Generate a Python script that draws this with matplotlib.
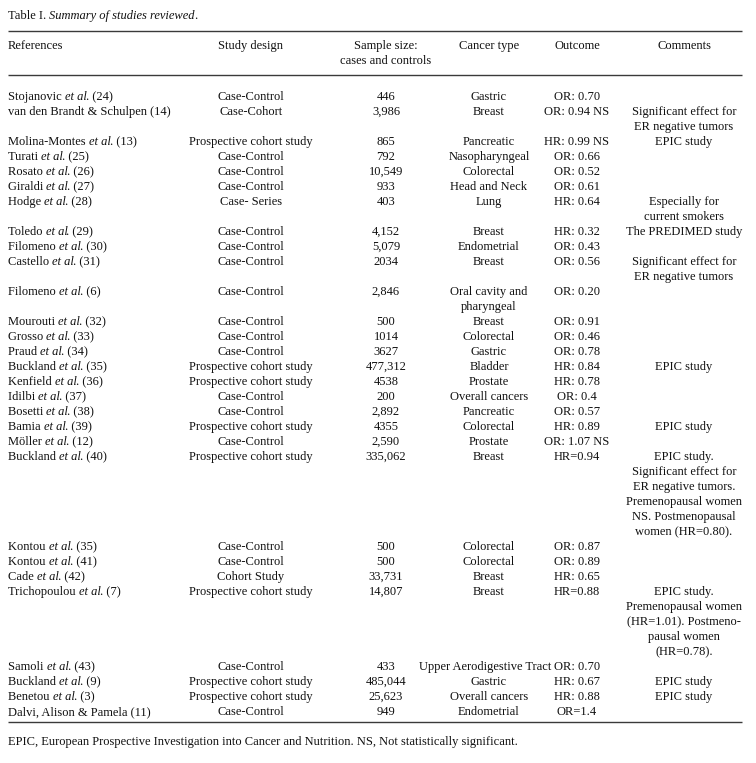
import matplotlib
matplotlib.use("Agg")
import matplotlib.pyplot as plt
from matplotlib.font_manager import FontProperties

plt.rcParams['font.family'] = ['Liberation Serif', 'DejaVu Serif']

# table content
references = [
    "Stojanovic et al. (24)", "van den Brandt & Schulpen (14)", "Molina-Montes et al. (13)",
    "Turati et al. (25)", "Rosato et al. (26)", "Giraldi et al. (27)", "Hodge et al. (28)",
    "Toledo et al. (29)", "Filomeno et al. (30)", "Castello et al. (31)", "Filomeno et al. (6)",
    "Mourouti et al. (32)", "Grosso et al. (33)", "Praud et al. (34)", "Buckland et al. (35)",
    "Kenfield et al. (36)", "Idilbi et al. (37)", "Bosetti et al. (38)", "Bamia et al. (39)",
    "Möller et al. (12)", "Buckland et al. (40)", "Kontou et al. (35)", "Kontou et al. (41)",
    "Cade et al. (42)", "Trichopoulou et al. (7)", "Samoli et al. (43)", "Buckland et al. (9)",
    "Benetou et al. (3)", "Dalvi, Alison & Pamela (11)",
]
designs = [
    "Case-Control", "Case-Cohort", "Prospective cohort study", "Case-Control", "Case-Control",
    "Case-Control", "Case- Series", "Case-Control", "Case-Control", "Case-Control",
    "Case-Control", "Case-Control", "Case-Control", "Case-Control", "Prospective cohort study",
    "Prospective cohort study", "Case-Control", "Case-Control", "Prospective cohort study",
    "Case-Control", "Prospective cohort study", "Case-Control", "Case-Control", "Cohort Study",
    "Prospective cohort study", "Case-Control", "Prospective cohort study",
    "Prospective cohort study", "Case-Control",
]
sample_sizes = [
    "446", "3,986", "865", "792", "10,549", "933", "403", "4,152", "5,079", "2034", "2,846",
    "500", "1014", "3627", "477,312", "4538", "200", "2,892", "4355", "2,590", "335,062",
    "500", "500", "33,731", "14,807", "433", "485,044", "25,623", "949",
]
cancer_types = [
    "Gastric", "Breast", "Pancreatic", "Nasopharyngeal", "Colorectal", "Head and Neck", "Lung",
    "Breast", "Endometrial", "Breast", "Oral cavity and\npharyngeal", "Breast", "Colorectal",
    "Gastric", "Bladder", "Prostate", "Overall cancers", "Pancreatic", "Colorectal", "Prostate",
    "Breast", "Colorectal", "Colorectal", "Breast", "Breast", "Upper Aerodigestive Tract",
    "Gastric", "Overall cancers", "Endometrial",
]
outcomes = [
    "OR: 0.70", "OR: 0.94 NS", "HR: 0.99 NS", "OR: 0.66", "OR: 0.52", "OR: 0.61", "HR: 0.64",
    "HR: 0.32", "OR: 0.43", "OR: 0.56", "OR: 0.20", "OR: 0.91", "OR: 0.46", "OR: 0.78",
    "HR: 0.84", "HR: 0.78", "OR: 0.4", "OR: 0.57", "HR: 0.89", "OR: 1.07 NS", "HR=0.94",
    "OR: 0.87", "OR: 0.89", "HR: 0.65", "HR=0.88", "OR: 0.70", "HR: 0.67", "HR: 0.88", "OR=1.4",
]
comments = [
    "", "Significant effect for\nER negative tumors", "EPIC study", "", "", "",
    "Especially for\ncurrent smokers", "The PREDIMED study", "",
    "Significant effect for\nER negative tumors", "", "", "", "", "EPIC study", "", "", "",
    "EPIC study", "",
    "EPIC study.\nSignificant effect for\nER negative tumors.\nPremenopausal women\nNS. Postmenopausal\nwomen (HR=0.80).",
    "", "", "",
    "EPIC study.\nPremenopausal women\n(HR=1.01). Postmeno-\npausal women\n(HR=0.78).",
    "", "EPIC study", "EPIC study", "",
]
headers = ["References", "Study design", "Sample size:\ncases and controls",
           "Cancer type", "Outcome", "Comments"]
title_runs = [("Table I. ", "normal"), ("Summary of studies reviewed", "italic"), (".", "normal")]
footnote = "EPIC, European Prospective Investigation into Cancer and Nutrition. NS, Not statistically significant."

FS = 9.0
INK = '#111111'
RULE = '#3a3a3a'
LEFT, RIGHT = 8, 742
col_x = [LEFT, 251, 386, 489, 577, 684]
col_w = [None, 150, 100, 120, 80, 130]   # beyond this a cell runs into the next column
PITCH = 15

fig = plt.figure(figsize=(7.56, 7.63), dpi=100)
ax = fig.add_axes([0, 0, 1, 1])
ax.set_xlim(0, 756)
ax.set_ylim(763, 0)
ax.axis('off')
renderer = fig.canvas.get_renderer()


def advance(s, style="normal"):
    # width in px of a run incl. trailing spaces (sentinel glyph trick)
    prop = FontProperties(family=['Liberation Serif'], size=FS, style=style)
    w1, _, _ = renderer.get_text_width_height_descent(s + "l", prop, ismath=False)
    w2, _, _ = renderer.get_text_width_height_descent("l", prop, ismath=False)
    return w1 - w2


def draw_runs(x, y, runs):
    for s, style in runs:
        ax.text(x, y, s, fontsize=FS, fontstyle=style, color=INK, ha='left', va='baseline')
        x += advance(s, style) - (1 if style == "italic" else 0)


def ref_runs(s):
    if " et al" in s:
        a, b = s.split("et al", 1)
        return [(a, "normal"), ("et al", "italic"), (b, "normal")]
    return [(s, "normal")]


# title
draw_runs(LEFT, 19, title_runs)

# rules
for yy in (31, 75, 722):
    ax.plot([LEFT, RIGHT], [yy, yy], color=RULE, lw=1.0, solid_capstyle='butt')

# header
for i, h in enumerate(headers):
    for k, line in enumerate(h.split("\n")):
        ha = 'left' if i == 0 else 'center'
        ax.text(col_x[i], 49 + k * PITCH, line, fontsize=FS, color=INK, ha=ha, va='baseline')

# body
y = 100
for r in range(len(references)):
    cells = [designs[r], sample_sizes[r], cancer_types[r], outcomes[r], comments[r]]
    n = max(c.count("\n") + 1 for c in cells)
    draw_runs(LEFT, y, ref_runs(references[r]))
    for j, c in enumerate(cells):
        for k, line in enumerate(c.split("\n")):
            if not line:
                continue
            x, ha = col_x[j + 1], 'center'
            if advance(line) > col_w[j + 1] and j + 2 < len(col_x):
                # overflowing cell: end just before the next column's text
                nxt = cells[j + 1].split("\n")[0]
                x, ha = col_x[j + 2] - advance(nxt) / 2 - 3, 'right'
            ax.text(x, y + k * PITCH, line, fontsize=FS, color=INK, ha=ha, va='baseline')
    y += n * PITCH

# footnote
ax.text(LEFT, 745, footnote, fontsize=FS, color=INK, ha='left', va='baseline')

fig.savefig("out.png", dpi=100)
